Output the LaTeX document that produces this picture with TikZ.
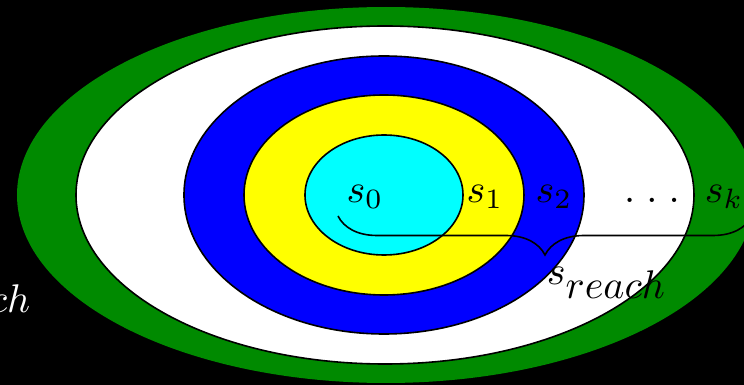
\documentclass[tikz,border=0pt]{standalone}
\usetikzlibrary{decorations.pathreplacing,shapes.geometric}
\definecolor{Outer}{HTML}{008A00}
\definecolor{Step}{HTML}{0000FF}
\definecolor{First}{HTML}{FFFF00}
\definecolor{Init}{HTML}{00FFFF}
\tikzset{
  zone/.style={ellipse, draw=black, inner sep=0pt},
  state/.style={inner sep=0pt, anchor=base},
  reachbrace/.style={decorate, decoration={brace, mirror, amplitude=9.75pt}}
}
\begin{document}
\begin{tikzpicture}[x=0.25pt,y=-0.25pt]
  \useasboundingbox (0,0) rectangle (744,385);
  \fill[black] (0,0) rectangle (744,385);
  % nested sets
  \node[zone,draw=none,fill=Outer,minimum width=184.5pt,minimum height=94pt] (green) at (386,195) {};
  \node[zone,fill=white,minimum width=154.5pt,minimum height=84.5pt] (white) at (385,195) {};
  \node[zone,fill=Step,minimum width=100pt,minimum height=69.5pt] (blue) at (384,195) {};
  \node[zone,fill=First,minimum width=70pt,minimum height=50pt] (yellow) at (384,195) {};
  \node[zone,fill=Init,minimum width=39.5pt,minimum height=30pt] (cyan) at (384,195) {};
  % labels
  \node[state] (s0) at (365,203) {$s_0$};
  \node[state] (s1) at (485,203) {$s_1$};
  \node[state] (s2) at (554,203) {$s_2$};
  \node[state] (dots) at (652,203) {$.\;.\;.$};
  \node[state] (sk) at (724,203) {$s_k$};
  \node[state] (reach) at (607,285) {$s_{\textstyle reach}$};
  \node[state,anchor=base east,text=white] (rest) at (31,313) {$ch$};
  % brace
  \coordinate (bl) at (338,216);
  \coordinate (br) at (752,216);
  \draw[reachbrace] (bl) -- (br);
\end{tikzpicture}
\end{document}
